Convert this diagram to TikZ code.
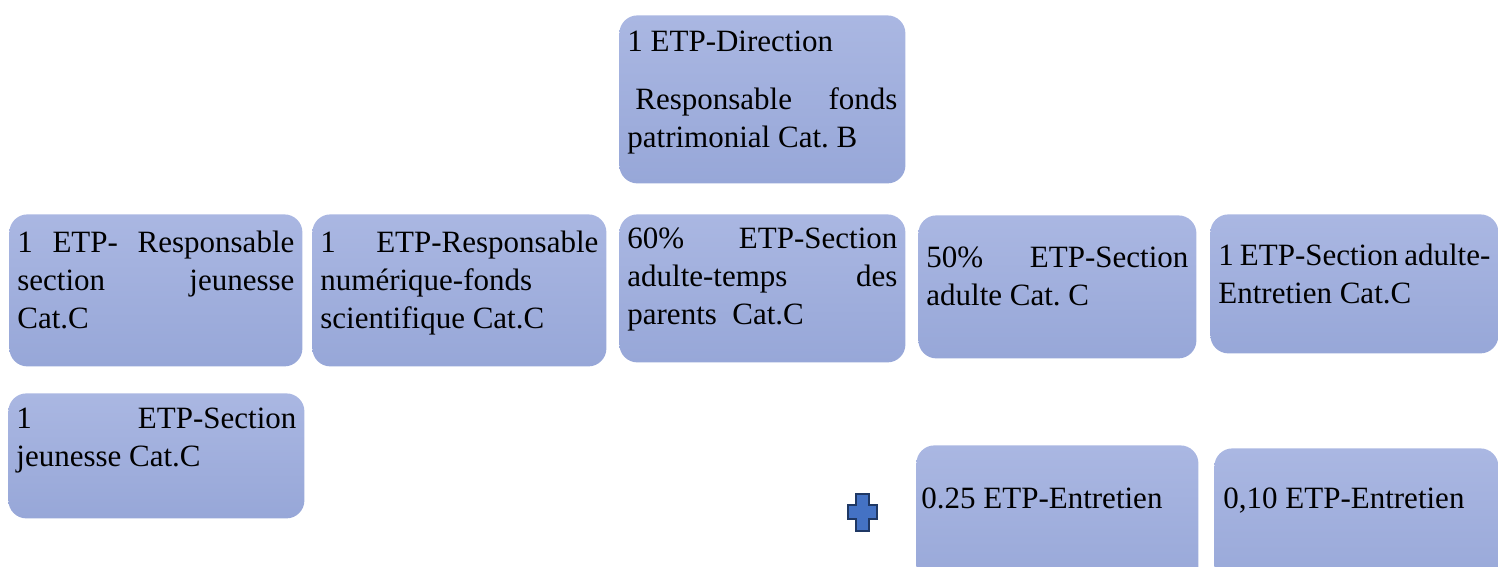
\documentclass[tikz,border=0pt]{standalone}
\usepackage{fontspec}
\setmainfont{Liberation Serif}
\frenchspacing
\definecolor{boxtop}{RGB}{170,183,226}
\definecolor{boxbot}{RGB}{151,167,216}
\definecolor{plusfill}{RGB}{68,114,196}
\definecolor{plusline}{RGB}{31,56,100}
\tikzset{
x=0.5pt,
y=-0.5pt,
every node/.style={inner sep=0pt},
unit/.style={rectangle, rounded corners=9pt, anchor=north west, top color=boxtop, bottom color=boxbot},
label text/.style={anchor=base west, align=justify, font=\fontsize{15.5pt}{19pt}\selectfont},
}

\begin{document}
\begin{tikzpicture}
    \useasboundingbox (0,0) rectangle (1498,567);
    \clip (0,0) rectangle (1498,567);

    \node[unit, minimum width=143pt, minimum height=84pt] (dir) at (619,15) {};
    \node[unit, minimum width=146.5pt, minimum height=76pt] (jeun) at (9,214) {};
    \node[unit, minimum width=147pt, minimum height=76pt] (num) at (312,214) {};
    \node[unit, minimum width=143pt, minimum height=74pt] (parents) at (619,214) {};
    \node[unit, minimum width=139pt, minimum height=71.5pt] (adulte) at (918,215) {};
    \node[unit, minimum width=144pt, minimum height=69.5pt] (entr) at (1210,214) {};
    \node[unit, minimum width=148pt, minimum height=62.5pt] (sectj) at (8,393) {};
    \node[unit, minimum width=141pt, minimum height=75pt] (e25) at (916,445) {};
    \node[unit, minimum width=142pt, minimum height=75pt] (e10) at (1214,448) {};

    \node[label text, text width=135pt] (tdir) at ([shift={(8,37)}]dir.north west)
        {1 ETP-Direction\\[10pt]\hspace*{4pt}Responsable fonds\linebreak patrimonial Cat. B};
    \node[label text, text width=138.5pt] (tjeun) at ([shift={(8,38)}]jeun.north west)
        {1 ETP- Responsable\linebreak section jeunesse\linebreak Cat.C};
    \node[label text, text width=139pt] (tnum) at ([shift={(8,38)}]num.north west)
        {1 ETP-Responsable\linebreak num\'erique-fonds\\ scientifique Cat.C};
    \node[label text, text width=135pt] (tparents) at ([shift={(8,34)}]parents.north west)
        {60\% ETP-Section\linebreak adulte-temps des\linebreak parents\ \ Cat.C};
    \node[label text, text width=131pt] (tadulte) at ([shift={(8,52)}]adulte.north west)
        {50\% ETP-Section\linebreak adulte Cat. C};
    \node[label text, text width=136pt] (tentr) at ([shift={(8,51)}]entr.north west)
        {1 ETP-Section adulte-\\ Entretien Cat.C};
    \node[label text, text width=140pt] (tsectj) at ([shift={(8,35)}]sectj.north west)
        {1 ETP-Section\linebreak jeunesse Cat.C};
    \node[label text, text width=137pt] (te25) at ([shift={(5,63)}]e25.north west)
        {0.25 ETP-Entretien};
    \node[label text, text width=134pt] (te10) at ([shift={(9,60)}]e10.north west)
        {0,10 ETP-Entretien};

    \draw[fill=plusfill, draw=plusline, line width=1.2pt, line join=miter]
        (856,494) -- (869,494) -- (869,505) -- (877,505) -- (877,519) -- (869,519)
        -- (869,531) -- (856,531) -- (856,519) -- (848,519) -- (848,505) -- (856,505) -- cycle;

\end{tikzpicture}
\end{document}
